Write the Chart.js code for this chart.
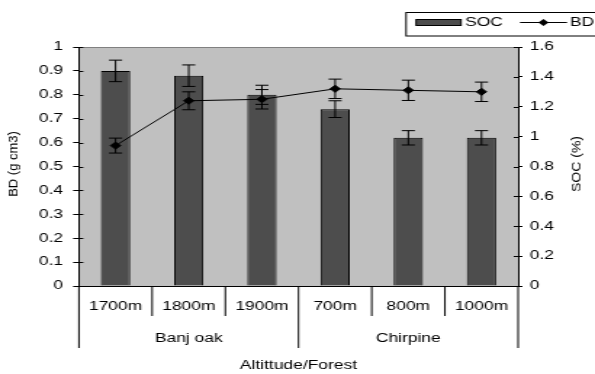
<!DOCTYPE html>
<html>
<head>
<meta charset="utf-8">
<script src="https://cdn.jsdelivr.net/npm/chart.js@4.4.1/dist/chart.umd.min.js"></script>
<style>
  html, body { margin: 0; padding: 0; background: #fff; }
</style>
</head>
<body>
<!-- the reference is stretched sideways, so the canvas is drawn narrow and widened by an inline style -->
<canvas id="chart" width="410" height="374" style="width:595px;height:374px;display:block"></canvas>
<script>
// data
const altitudes = ['1700m', '1800m', '1900m', '700m', '800m', '1000m'];
const groupNames = ['Banj oak', 'Chirpine'];
const groupSizes = [3, 3];
const socValues = [0.90, 0.88, 0.80, 0.74, 0.62, 0.62];   // bars, left axis
const socErr    = [0.045, 0.045, 0.04, 0.035, 0.03, 0.03];
const bdValues  = [0.94, 1.24, 1.25, 1.32, 1.31, 1.30];   // line, right axis
const bdErr     = [0.05, 0.06, 0.065, 0.065, 0.068, 0.065];
const leftTicks  = { min: 0, max: 1, step: 0.1 };
const rightTicks = { min: 0, max: 1.6, step: 0.2 };

const STRETCH = 595 / 410;
const FONT = 'Liberation Sans, Arial, sans-serif';
const tickFont = { family: FONT, size: 12 };
const fmt = v => String(+v.toFixed(2));

// plot background, error bars, two-level x labels, titles and legend
const decorations = {
  id: 'decorations',
  beforeDraw(chart) {
    const { ctx, chartArea: a } = chart;
    ctx.save();
    ctx.fillStyle = '#fff';
    ctx.fillRect(0, 0, chart.width, chart.height);
    ctx.fillStyle = '#c0c0c0';
    ctx.fillRect(a.left, a.top, a.right - a.left, a.bottom - a.top);
    ctx.strokeStyle = '#808080';
    ctx.lineWidth = 1;
    ctx.beginPath();
    ctx.moveTo(a.left, a.top + 0.5);
    ctx.lineTo(a.right, a.top + 0.5);
    ctx.stroke();
    ctx.restore();
  },
  afterDatasetsDraw(chart) {
    const { ctx } = chart;
    const x = chart.scales.x;
    const sets = [
      { vals: socValues, err: socErr, scale: chart.scales.y },
      { vals: bdValues, err: bdErr, scale: chart.scales.y1 }
    ];
    ctx.save();
    ctx.strokeStyle = '#000';
    ctx.lineWidth = 1;
    sets.forEach(s => {
      s.vals.forEach((v, i) => {
        const px = x.getPixelForValue(i);
        const top = s.scale.getPixelForValue(v + s.err[i]);
        const bot = s.scale.getPixelForValue(v - s.err[i]);
        ctx.beginPath();
        ctx.moveTo(px, top); ctx.lineTo(px, bot);
        ctx.moveTo(px - 4.5, top); ctx.lineTo(px + 4.5, top);
        ctx.moveTo(px - 4.5, bot); ctx.lineTo(px + 4.5, bot);
        ctx.stroke();
      });
    });
    ctx.restore();
  },
  afterDraw(chart) {
    const { ctx, chartArea: a } = chart;
    const x = chart.scales.x, y = chart.scales.y, y1 = chart.scales.y1;
    const step = (a.right - a.left) / altitudes.length;
    ctx.save();
    ctx.strokeStyle = '#000';
    ctx.fillStyle = '#000';
    ctx.lineWidth = 1;

    // inner half of the crossing ticks
    ctx.beginPath();
    y.ticks.forEach(t => {
      const py = Math.round(y.getPixelForValue(t.value)) + 0.5;
      ctx.moveTo(a.left, py); ctx.lineTo(a.left + 3, py);
    });
    y1.ticks.forEach(t => {
      const py = Math.round(y1.getPixelForValue(t.value)) + 0.5;
      ctx.moveTo(a.right - 3, py); ctx.lineTo(a.right, py);
    });
    ctx.stroke();

    // category separators, longer at group edges
    const groupEdges = [0];
    groupSizes.forEach(n => groupEdges.push(groupEdges[groupEdges.length - 1] + n));
    ctx.beginPath();
    for (let i = 0; i <= altitudes.length; i++) {
      const px = x.getPixelForValue(0) - step / 2 + i * step;
      const len = groupEdges.includes(i) ? 62 : 30;
      ctx.moveTo(px, a.bottom); ctx.lineTo(px, a.bottom + len);
    }
    ctx.stroke();

    ctx.font = '12px ' + FONT;
    ctx.textAlign = 'center';
    ctx.textBaseline = 'middle';
    groupNames.forEach((g, k) => {
      const first = groupEdges[k], last = groupEdges[k + 1] - 1;
      const cx = (x.getPixelForValue(first) + x.getPixelForValue(last)) / 2;
      ctx.fillText(g, cx, 339);
    });
    ctx.fillText('Altittude/Forest', (a.left + a.right) / 2, 366);

    // rotated axis titles, undo the sideways stretch so glyphs keep their shape
    const vText = (txt, cx, cy, size) => {
      ctx.save();
      ctx.translate(cx, cy);
      ctx.scale(1 / STRETCH, 1);
      ctx.rotate(-Math.PI / 2);
      ctx.font = size + 'px ' + FONT;
      ctx.fillText(txt, 0, 0);
      ctx.restore();
    };
    vText('BD (g cm3)', 9.7, 164, 13);
    vText('SOC (%)', 397.6, 164, 14);

    // legend
    const barSet = chart.data.datasets.find(d => d.type === 'bar');
    const lineSet = chart.data.datasets.find(d => d.type === 'line');
    const ly = 22.5;
    ctx.strokeRect(279.8, 12.5, 200, 23.5);
    ctx.fillStyle = barSet.backgroundColor;
    ctx.fillRect(286.7, 19.5, 31, 6);
    ctx.strokeRect(286.7, 19.5, 31, 6);
    ctx.fillStyle = '#000';
    ctx.textAlign = 'left';
    ctx.font = '12px ' + FONT;
    ctx.fillText(barSet.label, 320.4, ly);
    ctx.beginPath();
    ctx.moveTo(358.3, ly); ctx.lineTo(390.7, ly);
    ctx.stroke();
    ctx.beginPath();
    ctx.moveTo(374.5, ly - 3.5); ctx.lineTo(378, ly);
    ctx.lineTo(374.5, ly + 3.5); ctx.lineTo(371, ly);
    ctx.closePath();
    ctx.fill();
    ctx.fillText(lineSet.label, 392.8, ly);
    ctx.restore();
  }
};

new Chart(document.getElementById('chart'), {
  data: {
    labels: altitudes,
    datasets: [
      {
        type: 'line',
        label: 'BD',
        data: bdValues,
        yAxisID: 'y1',
        borderColor: '#000',
        borderWidth: 1,
        backgroundColor: '#000',
        pointStyle: 'rectRot',
        pointRadius: 3.5,
        pointBackgroundColor: '#000',
        pointBorderColor: '#000',
        tension: 0,
        order: 1
      },
      {
        type: 'bar',
        label: 'SOC',
        data: socValues,
        yAxisID: 'y',
        backgroundColor: '#4d4d4d',
        borderColor: '#000',
        borderWidth: 1,
        barPercentage: 0.4,
        categoryPercentage: 1,
        order: 2
      }
    ]
  },
  options: {
    responsive: false,
    devicePixelRatio: 1,
    animation: false,
    layout: { padding: { top: 47, left: 0, right: 0, bottom: 0 } },
    plugins: { legend: { display: false }, tooltip: { enabled: false } },
    scales: {
      x: {
        type: 'category',
        offset: true,
        grid: { display: true, drawOnChartArea: false, drawTicks: false, color: '#000' },
        border: { display: true, color: '#000', width: 1 },
        ticks: { font: tickFont, color: '#000', padding: 13, maxRotation: 0, autoSkip: false },
        afterFit: s => { s.height = 88; }
      },
      y: {
        position: 'left',
        min: leftTicks.min,
        max: leftTicks.max,
        grid: { drawOnChartArea: false, tickLength: 4, color: '#000' },
        border: { display: true, color: '#000', width: 1 },
        ticks: { stepSize: leftTicks.step, font: tickFont, color: '#000', padding: 7, callback: fmt },
        afterFit: s => { s.width = 54.4; }
      },
      y1: {
        position: 'right',
        min: rightTicks.min,
        max: rightTicks.max,
        grid: { drawOnChartArea: false, tickLength: 3, color: '#000' },
        border: { display: true, color: '#000', width: 1 },
        ticks: { stepSize: rightTicks.step, font: tickFont, color: '#000', padding: 5, callback: fmt },
        afterFit: s => { s.width = 410 - 357; }
      }
    }
  },
  plugins: [decorations]
});
</script>
</body>
</html>
